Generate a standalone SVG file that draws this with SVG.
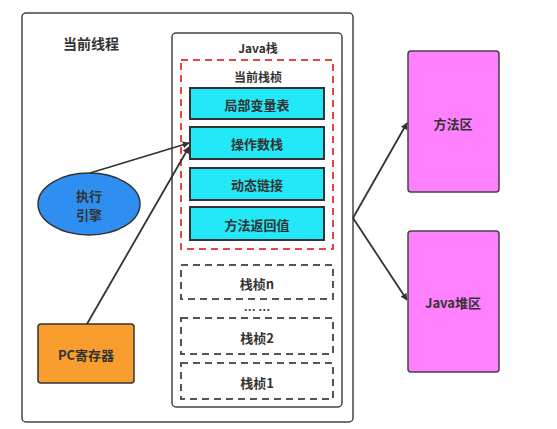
<svg xmlns="http://www.w3.org/2000/svg" width="557" height="429" viewBox="0 0 557 429">
<defs>
<style>
text{font-family:"Noto Sans CJK SC","Noto Sans",sans-serif;font-weight:bold;fill:#333;text-anchor:middle;dominant-baseline:central}
.box{stroke:#444;stroke-width:1.5}
.cyan{fill:#22e8f8;stroke:#333;stroke-width:2}
.gdash{fill:none;stroke:#555;stroke-width:2;stroke-dasharray:7 5}
.edge{stroke:#333;stroke-width:1.8;fill:none;marker-end:url(#ah)}
</style>
<marker id="ah" viewBox="0 0 10 10" refX="9" refY="5" markerWidth="7" markerHeight="7" orient="auto" markerUnits="userSpaceOnUse">
<path d="M0,0 L10,5 L0,10 Z" fill="#333"/>
</marker>
</defs>
<rect width="557" height="429" fill="#fff"/>
<g id="thread">
<rect x="22" y="13" width="331" height="409" rx="4" fill="#fff" class="box"/>
<text x="91" y="43" font-size="14">当前线程</text>
</g>
<g id="javastack">
<rect x="172" y="33" width="170" height="374" rx="4" fill="#fff" class="box"/>
<text x="258" y="47" font-size="12">Java栈</text>
</g>
<g id="currentframe">
<rect x="181" y="60" width="152" height="189" fill="none" stroke="#e8453c" stroke-width="2" stroke-dasharray="7 5"/>
<text x="258" y="76" font-size="12">当前栈桢</text>
</g>
<g id="locals"><rect x="190" y="88" width="134" height="31" class="cyan"/><text x="257" y="104" font-size="13">局部变量表</text></g>
<g id="operand"><rect x="190" y="127" width="134" height="32" class="cyan"/><text x="257" y="143" font-size="13">操作数栈</text></g>
<g id="dynlink"><rect x="190" y="168" width="134" height="32" class="cyan"/><text x="257" y="184" font-size="13">动态链接</text></g>
<g id="retval"><rect x="190" y="207" width="134" height="33" class="cyan"/><text x="257" y="224" font-size="13">方法返回值</text></g>
<g id="framen"><rect x="181" y="265" width="152" height="34" class="gdash"/><text x="257" y="283" font-size="13">栈桢n</text></g>
<text x="257" y="309" font-size="12">… …</text>
<g id="frame2"><rect x="181" y="318" width="152" height="36" class="gdash"/><text x="257" y="337" font-size="13">栈桢2</text></g>
<g id="frame1"><rect x="181" y="363" width="152" height="36" class="gdash"/><text x="257" y="382" font-size="13">栈桢1</text></g>
<g id="engine">
<ellipse cx="89" cy="204" rx="51" ry="31" fill="#2f8ff0" stroke="#333" stroke-width="1.5"/>
<text x="89" y="195" font-size="13">执行</text>
<text x="89" y="214" font-size="13">引擎</text>
</g>
<g id="pc">
<rect x="38" y="324" width="96" height="59" rx="3" fill="#f89d2e" stroke="#333" stroke-width="1.5"/>
<text x="86" y="354" font-size="13">PC寄存器</text>
</g>
<g id="methodarea">
<rect x="408" y="51" width="91" height="141" rx="3" fill="#ff80ff" stroke="#444" stroke-width="1.5"/>
<text x="453" y="123" font-size="13">方法区</text>
</g>
<g id="heap">
<rect x="408" y="231" width="91" height="141" rx="3" fill="#ff80ff" stroke="#444" stroke-width="1.5"/>
<text x="453" y="302" font-size="13">Java堆区</text>
</g>
<g id="connectors">
<line x1="90" y1="173" x2="189" y2="143" class="edge"/>
<line x1="87" y1="324" x2="189" y2="147" class="edge"/>
<line x1="353" y1="218" x2="407" y2="123" class="edge"/>
<line x1="353" y1="218" x2="407" y2="300" class="edge"/>
</g>
</svg>
